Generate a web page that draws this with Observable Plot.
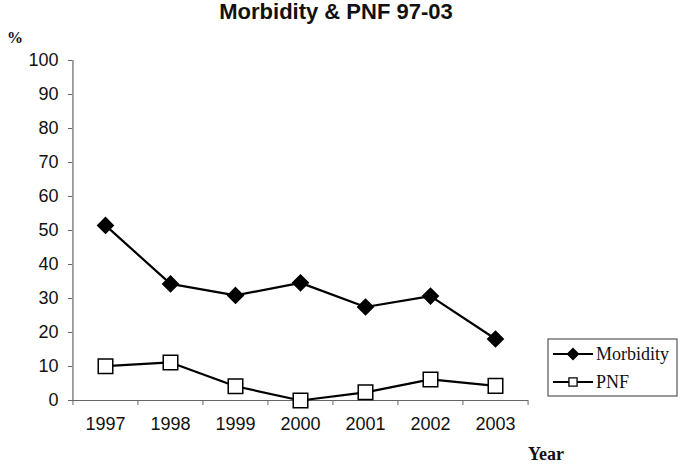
<!DOCTYPE html>
<html><head><meta charset="utf-8">
<script src="https://cdn.jsdelivr.net/npm/d3@7"></script>
<script src="https://cdn.jsdelivr.net/npm/@observablehq/plot@0.6"></script>
<style>body{margin:0;background:#fff}</style>
</head><body><div id="chart"></div>
<script>
const years = ["1997", "1998", "1999", "2000", "2001", "2002", "2003"];
const morbidity = [51.5, 34.3, 30.9, 34.6, 27.5, 30.7, 18.1];
const pnf = [10.1, 11.2, 4.2, 0, 2.4, 6.2, 4.3];
const seriesNames = ["Morbidity", "PNF"];
const yTicks = d3.range(0, 101, 10);
const titleText = "Morbidity & PNF 97-03";
const yLabel = "%";
const xLabel = "Year";

const W = 683, H = 465, mL = 72, mR = 155, mT = 60, mB = 65;
const step = (W - mL - mR) / years.length;
const rows = years.flatMap((y, i) => [
  {year: y, value: morbidity[i], series: seriesNames[0]},
  {year: y, value: pnf[i], series: seriesNames[1]}
]);
const styles = {
  Morbidity: {symbol: "diamond2", fill: "#000", r: 7, legendR: 5},
  PNF: {symbol: "square", fill: "#fff", r: 8.2, legendR: 4.6}
};

const chart = Plot.plot({
  width: W, height: H, marginLeft: mL, marginRight: mR, marginTop: mT, marginBottom: mB,
  style: {fontFamily: "'Liberation Sans', Arial, sans-serif", fontSize: "18px", color: "#111", background: "#fff"},
  x: {type: "point", domain: years, padding: 0.5, label: null},
  y: {domain: [0, 100], label: null},
  marks: [
    Plot.ruleX([years[0]], {dx: -step / 2, stroke: "#666", strokeWidth: 1.2}),
    Plot.ruleY([0], {stroke: "#666", strokeWidth: 1.2}),
    Plot.axisY({ticks: yTicks, tickSize: 4, tickPadding: 10, stroke: "#666", label: null}),
    Plot.axisX({ticks: years, tickSize: 0, tickPadding: 17, label: null}),
    Plot.axisX({ticks: years, tickSize: 5, tickFormat: () => "", dx: -step / 2, label: null, stroke: "#666"}),
    Plot.axisX({ticks: [years[years.length - 1]], tickSize: 5, tickFormat: () => "", dx: step / 2, label: null, stroke: "#666"}),
    Plot.line(rows, {x: "year", y: "value", z: "series", stroke: "#000", strokeWidth: 2.2}),
    ...seriesNames.map(s => Plot.dot(rows.filter(d => d.series === s), {
      x: "year", y: "value", symbol: styles[s].symbol, r: styles[s].r,
      fill: styles[s].fill, stroke: "#000", strokeWidth: 1.5
    }))
  ]
});
document.getElementById("chart").appendChild(chart);

const svg = d3.select(chart);
svg.append("text").attr("x", 336).attr("y", 19).attr("text-anchor", "middle")
  .attr("font-family", "'Liberation Sans', Arial, sans-serif").attr("font-weight", "bold")
  .attr("font-size", 22).attr("fill", "#111").text(titleText);
svg.append("text").attr("x", 7).attr("y", 43).attr("text-anchor", "start")
  .attr("font-family", "'Liberation Serif', 'Times New Roman', serif").attr("font-weight", "bold")
  .attr("font-size", 16).attr("fill", "#111").text(yLabel);
svg.append("text").attr("x", 528).attr("y", 460).attr("text-anchor", "start")
  .attr("font-family", "'Liberation Serif', 'Times New Roman', serif").attr("font-weight", "bold")
  .attr("font-size", 18).attr("fill", "#111").text(xLabel);

const lg = svg.append("g").attr("transform", "translate(548,339)");
lg.append("rect").attr("width", 129).attr("height", 57).attr("fill", "#fff").attr("stroke", "#555").attr("stroke-width", 1.2);
const symMap = {diamond2: d3.symbolDiamond2, square: d3.symbolSquare};
seriesNames.forEach((s, i) => {
  const g = lg.append("g").attr("transform", `translate(0,${15 + i * 28})`);
  g.append("line").attr("x1", 5).attr("x2", 45).attr("stroke", "#000").attr("stroke-width", 2);
  const r = styles[s].legendR;
  g.append("path").attr("transform", "translate(25,0)")
    .attr("d", d3.symbol(symMap[styles[s].symbol], Math.PI * r * r)())
    .attr("fill", styles[s].fill).attr("stroke", "#000").attr("stroke-width", 1.3);
  g.append("text").attr("x", 48).attr("y", 0).attr("dy", "0.35em").attr("text-anchor", "start")
    .attr("font-family", "'Liberation Serif', 'Times New Roman', serif")
    .attr("font-size", 18).attr("fill", "#111").text(s);
});
</script>
</body></html>
